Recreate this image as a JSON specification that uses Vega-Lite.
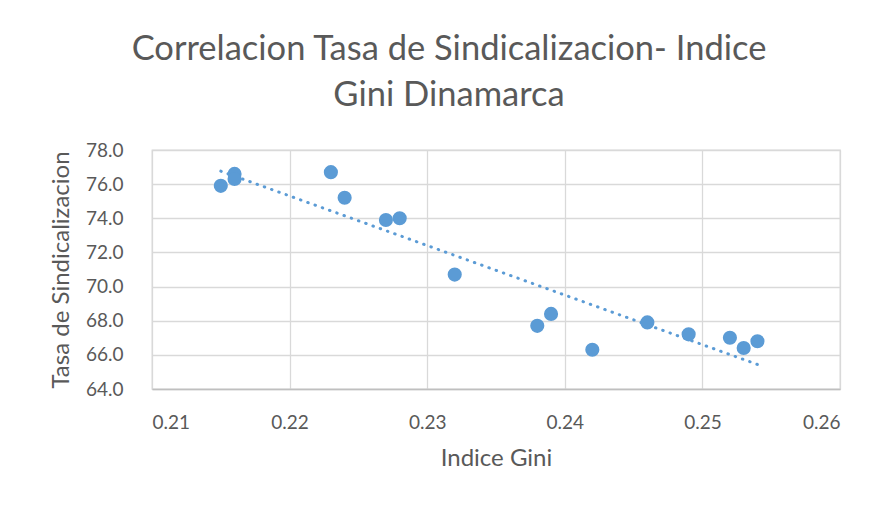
{
  "$schema": "https://vega.github.io/schema/vega-lite/v6.json",
  "width": 688,
  "height": 239,
  "autosize": {"type": "none"},
  "padding": {"left": 152, "top": 150, "right": 38, "bottom": 119},
  "background": "white",
  "title": {
    "text": ["Correlacion Tasa de Sindicalizacion- Indice", "Gini Dinamarca"],
    "font": "Lato",
    "fontSize": 34.5,
    "fontWeight": "normal",
    "color": "#595959",
    "anchor": "middle",
    "dx": -47,
    "dy": 12,
    "offset": 40,
    "lineHeight": 46
  },
  "data": {
    "values": [
      {"gini": 0.215, "tasa": 75.9},
      {"gini": 0.216, "tasa": 76.6},
      {"gini": 0.216, "tasa": 76.3},
      {"gini": 0.223, "tasa": 76.7},
      {"gini": 0.224, "tasa": 75.2},
      {"gini": 0.227, "tasa": 73.9},
      {"gini": 0.228, "tasa": 74.0},
      {"gini": 0.232, "tasa": 70.7},
      {"gini": 0.238, "tasa": 67.7},
      {"gini": 0.239, "tasa": 68.4},
      {"gini": 0.242, "tasa": 66.3},
      {"gini": 0.246, "tasa": 67.9},
      {"gini": 0.249, "tasa": 67.2},
      {"gini": 0.252, "tasa": 67.0},
      {"gini": 0.253, "tasa": 66.4},
      {"gini": 0.254, "tasa": 66.8}
    ]
  },
  "encoding": {
    "x": {
      "field": "gini",
      "type": "quantitative",
      "title": "Indice Gini",
      "scale": {"domain": [0.21, 0.26], "nice": false, "zero": false},
      "axis": {
        "values": [0.21, 0.22, 0.23, 0.24, 0.25, 0.26],
        "format": ".2f",
        "grid": true,
        "gridColor": "#d9d9d9",
        "gridWidth": 1.3,
        "domain": true,
        "domainColor": "#bfbfbf",
        "domainWidth": 1.3,
        "ticks": false,
        "labelPadding": 24,
        "labelFont": "Lato",
        "labelFontSize": 19,
        "labelColor": "#595959",
        "titleFont": "Lato",
        "titleFontSize": 24,
        "titleFontWeight": "normal",
        "titleColor": "#595959",
        "titlePadding": 14
      }
    },
    "y": {
      "field": "tasa",
      "type": "quantitative",
      "title": "Tasa de Sindicalizacion",
      "scale": {"domain": [64, 78], "nice": false, "zero": false},
      "axis": {
        "values": [64, 66, 68, 70, 72, 74, 76, 78],
        "format": ".1f",
        "grid": true,
        "gridColor": "#d9d9d9",
        "gridWidth": 1.3,
        "domain": false,
        "ticks": false,
        "labelPadding": 29,
        "labelFont": "Lato",
        "labelFontSize": 19,
        "labelColor": "#595959",
        "titleFont": "Lato",
        "titleFontSize": 24,
        "titleFontWeight": "normal",
        "titleColor": "#595959",
        "titlePadding": 12
      }
    }
  },
  "layer": [
    {
      "transform": [{"regression": "tasa", "on": "gini"}],
      "mark": {"type": "line", "color": "#5b9bd5", "strokeWidth": 3, "strokeDash": [0.5, 7.2], "strokeCap": "round"},
      "encoding": {}
    },
    {
      "mark": {"type": "circle", "size": 200, "color": "#5b9bd5", "opacity": 1}
    }
  ],
  "config": {
    "view": {"stroke": "#d9d9d9", "strokeWidth": 1.3}
  }
}
